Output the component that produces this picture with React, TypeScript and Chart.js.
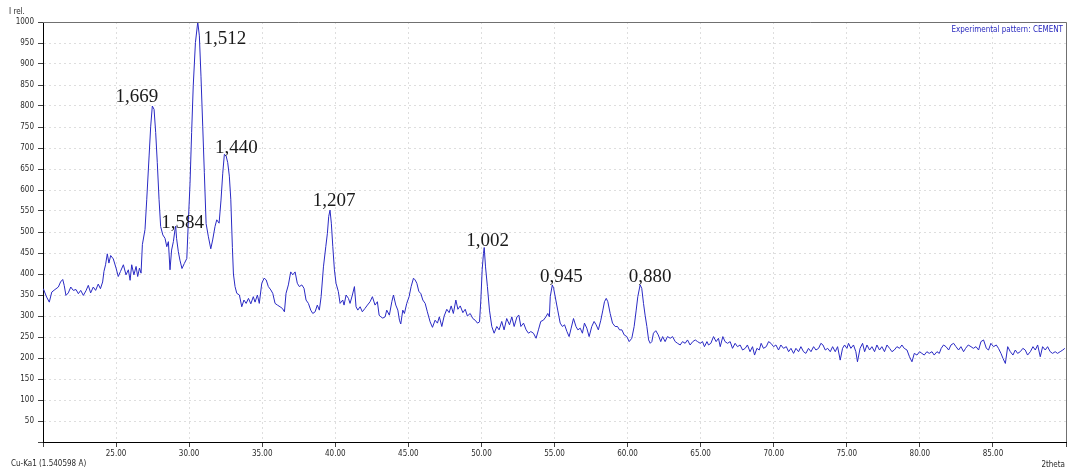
import React, { useEffect, useRef } from "react";
import { Chart, registerables } from "chart.js";

Chart.register(...registerables);

// ---- Data ----
const twoTheta: number[] = [
  20.02, 20.25, 20.43, 20.6, 20.82, 21.05, 21.2, 21.35, 21.45, 21.57, 21.73, 21.9, 22.07, 22.26, 22.42, 22.58, 22.76, 22.94,
  23.1, 23.26, 23.44, 23.6, 23.78, 23.93, 24.08, 24.17, 24.28, 24.4, 24.51, 24.63, 24.81, 25.0, 25.15, 25.3, 25.5, 25.68,
  25.84, 25.96, 26.07, 26.22, 26.37, 26.48, 26.6, 26.71, 26.8, 26.98, 27.1, 27.26, 27.37, 27.48, 27.6, 27.71, 27.82, 27.94,
  28.05, 28.2, 28.35, 28.47, 28.58, 28.69, 28.8, 28.92, 29.03, 29.08, 29.14, 29.26, 29.37, 29.51, 29.67, 29.84, 29.95, 30.06,
  30.17, 30.28, 30.43, 30.59, 30.7, 30.81, 30.93, 31.04, 31.16, 31.31, 31.48, 31.61, 31.77, 31.89, 32.05, 32.18, 32.3, 32.41,
  32.53, 32.64, 32.75, 32.85, 32.96, 33.03, 33.14, 33.26, 33.44, 33.6, 33.75, 33.9, 34.06, 34.22, 34.39, 34.51, 34.67, 34.8,
  34.97, 35.13, 35.27, 35.42, 35.59, 35.72, 35.88, 36.04, 36.22, 36.38, 36.52, 36.63, 36.79, 36.95, 37.09, 37.25, 37.4, 37.54,
  37.71, 37.86, 38.0, 38.16, 38.32, 38.46, 38.62, 38.77, 38.91, 39.03, 39.19, 39.35, 39.46, 39.55, 39.64, 39.73, 39.83, 39.94,
  40.05, 40.21, 40.33, 40.51, 40.6, 40.74, 40.9, 41.01, 41.17, 41.31, 41.42, 41.54, 41.7, 41.85, 42.03, 42.2, 42.38, 42.54,
  42.72, 42.88, 43.0, 43.12, 43.25, 43.41, 43.52, 43.7, 43.87, 43.98, 44.14, 44.28, 44.39, 44.48, 44.62, 44.73, 44.89, 45.05,
  45.19, 45.35, 45.46, 45.58, 45.72, 45.85, 45.99, 46.15, 46.3, 46.49, 46.65, 46.83, 46.99, 47.12, 47.29, 47.45, 47.63, 47.79,
  47.93, 48.08, 48.25, 48.39, 48.55, 48.73, 48.89, 49.04, 49.23, 49.41, 49.57, 49.73, 49.87, 49.96, 50.05, 50.14, 50.19, 50.28,
  50.41, 50.55, 50.71, 50.87, 51.05, 51.21, 51.39, 51.55, 51.73, 51.92, 52.08, 52.24, 52.43, 52.56, 52.7, 52.88, 53.06, 53.22,
  53.38, 53.56, 53.74, 53.9, 54.06, 54.24, 54.41, 54.54, 54.65, 54.71, 54.85, 54.94, 55.09, 55.22, 55.39, 55.54, 55.69, 55.85,
  56.0, 56.14, 56.3, 56.47, 56.6, 56.76, 56.91, 57.05, 57.21, 57.37, 57.55, 57.71, 57.85, 58.0, 58.17, 58.31, 58.42, 58.54,
  58.65, 58.81, 58.97, 59.15, 59.31, 59.45, 59.61, 59.77, 59.95, 60.11, 60.29, 60.45, 60.59, 60.7, 60.86, 60.97, 61.09, 61.2,
  61.32, 61.44, 61.55, 61.66, 61.77, 61.93, 62.1, 62.27, 62.4, 62.57, 62.73, 62.92, 63.08, 63.26, 63.42, 63.6, 63.76, 63.94,
  64.1, 64.28, 64.46, 64.63, 64.79, 64.97, 65.13, 65.26, 65.43, 65.54, 65.7, 65.88, 66.06, 66.22, 66.34, 66.52, 66.67, 66.84,
  67.02, 67.18, 67.36, 67.52, 67.7, 67.87, 68.05, 68.2, 68.38, 68.55, 68.69, 68.85, 69.01, 69.14, 69.3, 69.49, 69.65, 69.81,
  69.99, 70.15, 70.33, 70.49, 70.67, 70.86, 71.02, 71.18, 71.36, 71.52, 71.7, 71.86, 72.04, 72.2, 72.38, 72.55, 72.73, 72.89,
  73.07, 73.23, 73.37, 73.53, 73.69, 73.87, 74.03, 74.21, 74.37, 74.55, 74.71, 74.85, 75.01, 75.12, 75.28, 75.46, 75.62, 75.73,
  75.91, 76.08, 76.22, 76.38, 76.56, 76.72, 76.9, 77.06, 77.24, 77.4, 77.58, 77.75, 77.93, 78.09, 78.25, 78.43, 78.61, 78.77,
  78.93, 79.12, 79.29, 79.46, 79.62, 79.8, 79.98, 80.14, 80.3, 80.48, 80.64, 80.83, 80.98, 81.17, 81.33, 81.46, 81.62, 81.79,
  81.97, 82.13, 82.31, 82.47, 82.65, 82.81, 82.99, 83.13, 83.31, 83.5, 83.66, 83.84, 84.02, 84.18, 84.36, 84.55, 84.7, 84.86,
  85.04, 85.23, 85.38, 85.55, 85.69, 85.85, 86.01, 86.19, 86.37, 86.53, 86.69, 86.87, 87.05, 87.21, 87.37, 87.56, 87.74, 87.9,
  88.06, 88.24, 88.4, 88.58, 88.74, 88.92, 89.08, 89.26, 89.42, 89.6, 89.78, 89.92,
];

const intensity: number[] = [
  365, 345, 333, 357, 363, 369, 381, 387, 373, 349, 355, 369, 361, 363, 353, 361, 349, 360,
  373, 355, 369, 361, 376, 365, 381, 406, 422, 448, 426, 444, 436, 414, 394, 406, 422, 398,
  410, 385, 422, 398, 418, 394, 414, 402, 470, 506, 578, 681, 752, 800, 792, 737, 665, 578,
  513, 493, 485, 465, 477, 410, 457, 477, 505, 514, 485, 453, 433, 413, 425, 437, 529, 615,
  737, 848, 951, 1000, 967, 871, 752, 641, 520, 490, 460, 481, 513, 529, 521, 576, 640, 685,
  681, 665, 633, 578, 463, 400, 370, 354, 350, 322, 338, 330, 342, 329, 346, 333, 350, 330,
  378, 390, 386, 370, 362, 354, 330, 326, 322, 318, 310, 354, 374, 405, 398, 405, 378, 370,
  374, 366, 338, 330, 314, 306, 310, 326, 314, 346, 417, 465, 497, 537, 552, 521, 465, 410,
  378, 358, 330, 338, 326, 350, 342, 330, 350, 370, 322, 314, 322, 310, 318, 326, 334, 346,
  326, 334, 302, 298, 295, 298, 314, 302, 334, 350, 326, 314, 290, 281, 314, 306, 330, 346,
  370, 390, 386, 378, 358, 354, 338, 330, 310, 286, 273, 290, 283, 298, 275, 300, 316, 308,
  324, 306, 338, 316, 324, 308, 316, 300, 306, 294, 290, 283, 286, 338, 410, 449, 463, 417,
  370, 314, 275, 259, 275, 267, 287, 267, 294, 279, 298, 275, 298, 302, 275, 283, 267, 259,
  263, 259, 247, 267, 287, 290, 298, 306, 298, 346, 374, 366, 338, 314, 283, 275, 279, 263,
  251, 271, 294, 275, 267, 271, 259, 283, 271, 251, 275, 287, 279, 267, 290, 314, 334, 342,
  334, 306, 283, 275, 275, 267, 267, 255, 251, 239, 247, 275, 314, 346, 374, 366, 330, 302,
  275, 243, 235, 239, 259, 265, 255, 239, 251, 239, 251, 247, 251, 239, 235, 231, 239, 235,
  243, 231, 239, 243, 239, 235, 239, 227, 239, 231, 235, 251, 239, 247, 227, 251, 239, 235,
  239, 223, 235, 227, 231, 219, 223, 231, 215, 227, 207, 223, 219, 235, 223, 227, 239, 235,
  227, 231, 219, 231, 223, 227, 215, 223, 211, 223, 215, 227, 215, 211, 223, 215, 227, 219,
  223, 235, 231, 219, 223, 215, 227, 215, 227, 195, 223, 231, 223, 235, 223, 231, 215, 191,
  223, 235, 215, 231, 219, 227, 215, 231, 219, 227, 215, 231, 223, 215, 219, 227, 223, 231,
  223, 219, 203, 191, 211, 207, 215, 211, 207, 215, 211, 215, 207, 215, 211, 223, 231, 227,
  219, 231, 235, 227, 219, 227, 215, 223, 231, 227, 223, 227, 219, 239, 243, 223, 219, 235,
  227, 231, 223, 211, 199, 187, 227, 215, 207, 219, 211, 215, 223, 219, 207, 215, 227, 219,
  231, 203, 227, 219, 227, 215, 211, 215, 211, 215, 219, 223,
];

// d-spacing labels of the marked peaks
const peakLabels: string[] = ["1,669", "1,512", "1,440", "1,584", "1,207", "1,002", "0,945", "0,880"];
const peakTwoTheta: number[] = [27.48, 30.59, 32.41, 29.08, 39.64, 50.19, 54.85, 60.86];
const peakIntensity: number[] = [800, 1000, 685, 514, 552, 463, 374, 374];
// label offset from peak (pixels, style only)
const peakLabelOffsets: [number, number][] = [
  [-15.5, -9], [27, 17], [12, -6], [7, -3], [4, -9], [3.5, -7], [9, -8], [10, -8],
];

const xMin = 20;
const xMax = 90;
const xStep = 5;
const yMin = 0;
const yMax = 1000;
const yStep = 50;

const yAxisTitle = "I rel.";
const xAxisTitle = "2theta";
const wavelengthText = "Cu-Ka1 (1.540598 A)";
const seriesName = "Experimental pattern: CEMENT";

const AXIS_FONT = '"Liberation Sans Narrow", "DejaVu Sans Condensed", "Arial Narrow", sans-serif';
const LINE_COLOR = "rgb(42, 42, 196)";
const GRID_COLOR = "#dedede";

const extrasPlugin = {
  id: "xrdExtras",
  afterDatasetsDraw(chart: any) {
    const { ctx, scales } = chart;
    const xs = scales.x;
    const ys = scales.y;
    ctx.save();
    ctx.fillStyle = "#1a1a1a";
    ctx.font = '19px "Liberation Serif", "Times New Roman", serif';
    ctx.textAlign = "center";
    ctx.textBaseline = "middle";
    for (let i = 0; i < peakLabels.length; i++) {
      const px = xs.getPixelForValue(peakTwoTheta[i]);
      const py = ys.getPixelForValue(peakIntensity[i]);
      const [dx, dy] = peakLabelOffsets[i];
      ctx.fillText(peakLabels[i], px + dx, py + dy);
    }
    ctx.restore();
  },
  afterDraw(chart: any) {
    const { ctx, chartArea: a } = chart;
    ctx.save();
    // top and right frame
    ctx.strokeStyle = "#707070";
    ctx.lineWidth = 1;
    ctx.beginPath();
    ctx.moveTo(a.left, Math.round(a.top) + 0.5);
    ctx.lineTo(Math.round(a.right) + 0.5, Math.round(a.top) + 0.5);
    ctx.lineTo(Math.round(a.right) + 0.5, a.bottom);
    ctx.stroke();

    ctx.font = "8px " + AXIS_FONT;
    ctx.fillStyle = "#2a2a2a";
    ctx.textBaseline = "middle";
    ctx.textAlign = "left";
    ctx.fillText(yAxisTitle, 9, 12);
    ctx.fillText(wavelengthText, 11, 464);
    ctx.textAlign = "right";
    ctx.fillText(xAxisTitle, 1065, 465);

    ctx.fillStyle = "rgb(40, 40, 190)";
    ctx.fillText(seriesName, 1063, 30);
    ctx.restore();
  },
};

export default function App() {
  const canvasRef = useRef<HTMLCanvasElement | null>(null);

  useEffect(() => {
    document.body.style.margin = "0";
    document.body.style.overflow = "hidden";
    const canvas = canvasRef.current;
    if (!canvas) return;
    const points = twoTheta.map((x, i) => ({ x, y: intensity[i] }));
    const chart = new Chart(canvas, {
      type: "line",
      data: {
        datasets: [
          {
            label: seriesName,
            data: points,
            borderColor: LINE_COLOR,
            borderWidth: 1,
            pointRadius: 0,
            tension: 0,
            fill: false,
          },
        ],
      },
      options: {
        responsive: false,
        animation: false,
        devicePixelRatio: 1,
        layout: { padding: { top: 22, right: 2, left: 0, bottom: 0 } },
        plugins: {
          legend: { display: false },
          tooltip: { enabled: false },
          title: { display: false },
        },
        scales: {
          x: {
            type: "linear",
            min: xMin,
            max: xMax,
            afterFit: (s: any) => {
              s.height = 28;
            },
            ticks: {
              stepSize: xStep,
              autoSkip: false,
              maxRotation: 0,
              padding: 2,
              color: "#2a2a2a",
              font: { family: AXIS_FONT, size: 8 },
              callback: (v: any) => (v === xMin || v === xMax ? "" : Number(v).toFixed(2)),
            },
            grid: {
              color: GRID_COLOR,
              lineWidth: 1,
              tickLength: 5,
              tickColor: "#444",
              drawTicks: true,
            },
            border: { display: true, color: "#000", width: 1, dash: [2, 3] },
          },
          y: {
            type: "linear",
            min: yMin,
            max: yMax,
            afterFit: (s: any) => {
              s.width = 43;
            },
            ticks: {
              stepSize: yStep,
              autoSkip: false,
              padding: 4,
              color: "#2a2a2a",
              font: { family: AXIS_FONT, size: 8 },
              callback: (v: any) => (v === yMin ? "" : String(v)),
            },
            grid: {
              color: GRID_COLOR,
              lineWidth: 1,
              tickLength: 5,
              tickColor: "#444",
              drawTicks: true,
            },
            border: { display: true, color: "#000", width: 1, dash: [2, 3] },
          },
        },
      },
      plugins: [extrasPlugin],
    });
    return () => {
      chart.destroy();
    };
  }, []);

  return (
    <canvas
      ref={canvasRef}
      width={1068}
      height={470}
      style={{ display: "block", width: "1068px", height: "470px" }}
    />
  );
}
